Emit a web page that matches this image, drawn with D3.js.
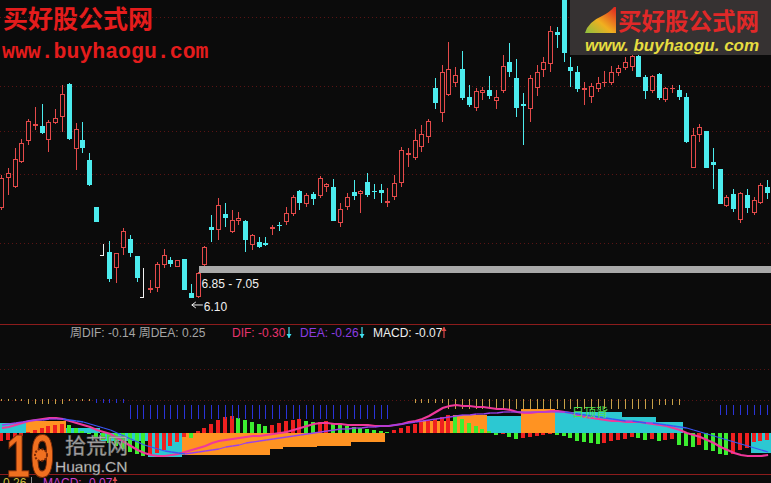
<!DOCTYPE html>
<html><head><meta charset="utf-8">
<script src="https://cdn.jsdelivr.net/npm/d3@7/dist/d3.min.js"></script>
<style>html,body{margin:0;padding:0;background:#0b0b0b;overflow:hidden}</style>
</head><body><svg id="c" width="771" height="483"></svg>
<script>
(function(){
// ---------- DATA ----------
const opens  = [8.76,9.64,9.37,10.11,10.73,11.17,11.17,10.76,11.26,11.43,12.40,10.49,10.76,10.17,8.79,7.37,7.46,6.99,7.58,7.84,7.34,6.14,6.34,6.40,7.08,7.23,7.02,7.26,6.26,6.14,7.08,8.20,8.11,8.58,8.05,8.37,8.37,7.67,7.76,7.72,8.15,8.27,8.34,8.58,9.26,8.87,9.17,9.11,9.37,9.37,8.31,8.79,9.23,9.17,9.52,9.27,9.29,8.90,9.08,9.49,10.31,10.23,10.55,10.84,12.29,11.55,12.08,12.43,12.84,12.02,11.70,12.14,12.23,11.90,12.20,13.05,12.58,11.81,11.67,12.29,12.81,12.99,13.93,15.00,12.90,12.76,12.23,12.02,12.26,12.43,12.43,12.73,12.87,12.90,13.23,12.61,12.20,12.70,11.93,12.26,12.23,12.02,9.93,10.90,11.02,10.11,9.90,8.81,9.17,8.40,9.14,8.61,8.90,9.37];
const highs  = [9.73,9.93,10.52,10.79,11.37,11.73,11.81,11.34,11.67,12.37,12.43,11.26,11.29,10.37,8.79,7.70,7.79,7.43,8.17,7.96,7.34,6.99,6.64,7.17,7.55,7.31,7.23,7.26,6.52,6.87,7.64,8.55,9.05,8.90,8.70,8.64,8.40,7.99,7.90,7.90,8.26,8.34,8.79,9.14,9.29,9.20,9.23,9.70,9.49,9.61,8.90,9.20,9.58,9.29,9.79,9.46,9.46,9.34,9.73,10.55,10.52,11.08,11.20,11.37,12.58,12.96,13.64,12.90,13.37,12.37,12.29,12.31,12.64,12.23,13.26,13.61,13.14,12.14,12.67,12.96,13.20,14.11,14.08,15.20,13.20,12.93,12.46,12.43,12.61,12.79,12.93,12.96,13.20,13.34,13.40,12.67,12.67,12.73,12.31,12.37,12.37,12.14,11.11,11.23,11.02,10.52,9.90,9.14,9.31,9.23,9.31,9.08,9.49,9.58];
const lows   = [8.70,9.14,9.34,10.08,10.61,11.05,10.93,10.40,11.23,10.99,10.76,9.87,10.37,9.40,8.34,7.37,6.58,6.55,7.37,7.31,6.58,6.14,6.26,6.29,6.99,7.02,7.02,6.34,6.10,6.12,7.05,7.76,7.81,8.20,8.02,8.26,7.46,7.52,7.58,7.64,7.96,8.11,8.26,8.52,8.70,8.79,8.84,9.05,9.23,8.37,8.20,8.70,8.99,8.61,9.08,9.05,8.90,8.79,8.99,9.37,9.96,10.17,10.40,10.67,11.67,11.29,12.05,12.31,11.93,11.73,11.61,11.93,11.96,11.67,12.14,12.61,11.43,10.61,11.29,12.05,12.61,12.76,13.46,13.05,12.31,12.17,11.79,11.84,12.17,12.34,12.37,12.64,12.81,12.79,12.61,11.96,12.14,11.93,11.87,12.17,11.93,10.67,9.93,10.70,9.93,9.31,8.87,8.79,8.64,8.31,8.61,8.55,8.87,9.02];
const closes = [9.64,9.79,10.20,10.67,11.31,11.23,10.96,11.29,11.40,12.11,10.79,11.08,10.52,9.43,8.34,7.37,6.67,7.43,8.08,7.43,6.70,6.14,6.40,7.11,7.37,7.11,7.23,6.34,6.12,6.84,7.61,8.11,8.84,8.46,8.40,8.46,7.81,7.96,7.61,7.68,8.19,8.24,8.61,9.08,8.90,9.14,9.02,9.64,9.46,8.37,8.73,9.08,9.11,9.26,9.14,9.25,9.20,8.96,9.49,10.46,10.37,10.76,10.93,11.31,11.84,12.76,12.84,12.67,11.99,11.79,12.20,12.23,12.05,12.02,12.93,12.76,11.70,11.76,12.58,12.76,13.05,13.96,13.84,13.31,12.79,12.26,12.29,12.34,12.43,12.46,12.76,12.87,13.05,13.23,12.61,12.20,12.64,11.99,12.29,12.29,12.02,10.70,10.90,11.14,9.93,10.02,8.87,9.08,8.73,9.20,8.76,8.99,9.43,9.20];
const whiteBars = [15, 21];
const gridPrices = [14.37, 12.34, 11.02, 9.76, 7.73];
const bandRange = [6.85, 7.05];
const bandStartIdx = 29;
const lowMarkIdx = 28, lowMarkPrice = 6.10;

const macdHist = [-.08,-.07,-.05,-.03,.01,.03,.05,.07,.08,.09,
  .08,.05,.02,-.01,-.04,-.07,-.10,-.13,-.16,-.19,
  -.21,-.23,-.22,-.20,-.17,-.13,-.09,-.04,-.05,.02,
  .05,.09,.13,.16,.17,.15,.13,.11,.09,.07,
  .08,.10,.12,.13,.14,.12,.11,.115,.12,.10,
  .08,.07,.06,.05,.04,.03,.02,.01,.03,.05,
  .07,.09,.11,.13,.14,.16,.18,.17,.14,.10,
  .07,.04,.02,-.02,-.01,-.04,-.06,-.05,-.04,-.03,
  -.02,-.01,-.02,-.03,-.05,-.08,-.09,-.10,-.11,-.10,
  -.08,-.07,-.06,-.04,-.05,-.07,-.06,-.08,-.07,-.06,
  -.12,-.13,-.14,-.12,-.17,-.18,-.21,-.22,-.21,-.17,
  -.15,-.09,-.08,-.07];
const difLine = [.05,.06,.08,.10,.12,.13,.14,.15,.15,.14,
  .12,.10,.08,.06,.03,.01,-.01,-.05,-.09,-.13,
  -.17,-.20,-.22,-.23,-.23,-.22,-.21,-.19,-.17,-.15,
  -.13,-.10,-.08,-.07,-.06,-.05,-.04,-.03,-.03,-.02,
  -.01,0,.01,.03,.05,.07,.09,.10,.10,.09,
  .09,.08,.08,.08,.08,.07,.07,.07,.08,.09,
  .11,.12,.14,.17,.21,.25,.27,.28,.27,.27,
  .26,.26,.25,.24,.24,.23,.21,.20,.20,.21,
  .21,.22,.22,.21,.20,.18,.16,.15,.14,.13,
  .12,.12,.11,.11,.11,.10,.09,.08,.07,.05,
  .03,0,-.02,-.04,-.07,-.10,-.14,-.17,-.20,-.22,
  -.23,-.23,-.23,-.22];
const deaLine = [.08,.09,.10,.11,.12,.13,.13,.14,.14,.14,
  .13,.12,.11,.09,.07,.05,.03,0,-.03,-.06,
  -.09,-.12,-.14,-.16,-.18,-.19,-.20,-.21,-.20,-.19,
  -.18,-.17,-.16,-.14,-.13,-.12,-.10,-.09,-.08,-.07,
  -.06,-.05,-.04,-.03,-.02,-.01,0,.01,.02,.03,
  .04,.04,.05,.05,.06,.06,.07,.07,.08,.09,
  .10,.11,.12,.13,.14,.15,.16,.17,.18,.18,
  .19,.19,.20,.20,.21,.21,.21,.21,.21,.21,
  .21,.21,.21,.21,.20,.19,.18,.17,.16,.15,
  .14,.13,.12,.12,.11,.10,.10,.09,.08,.07,
  .06,.05,.03,.01,-.01,-.03,-.05,-.07,-.09,-.11,
  -.13,-.15,-.17,-.19];
const weekStart = [0,4,10,15,22,27,40,42,47,52,57,62,67,72,77,82,92,97,101,111];
const weekHist  = [.10,.12,.05,-.08,-.24,-.22,-.16,-.14,-.13,-.09,0,.12,.18,.17,.24,.21,.16,.11,0,-.20];
const trendStick = [2,2,2,2,5,5,5,5,5,5,2,2,2,2,-4,-4,-4,-4,-4,
  -20,-20,-20,-20,-20,-20,-20,-20,-20,-20,-20,-20,-20,-20,-20,-20,-20,-20,-20,-20,
  -20,-20,-20,-20,-20,-20,-20,-20,-20,-20,-20,-20,-20,-20,-20,-20,-20,-20,-20,
  0,0,0,4,4,4,4,4,10,10,10,10,10,10,10,10,10,10,10,10,10,10,10,10,10,10,10,10,10,10,10,10,10,10,10,10,10,10,10,
  6,6,6,6,0,0,0,0,0,-14,-14,-14,-14,-14,-14,-14,-14];
const macdGrid = [0.64, 0.33];
const weekLegend = ["周DIF: -0.14", "周DEA: 0.25"];
const dayLegend = {dif:"DIF: -0.30", dea:"DEA: -0.26", macd:"MACD: -0.07"};

// ---------- SCALES ----------
const W = 771, H = 483;
const N = opens.length;
const svg = d3.select("#c");
svg.append("rect").attr("width",W).attr("height",H).attr("fill","#0b0b0b");
const x = d3.scaleBand().domain(d3.range(N)).range([-1.4, 771.5]);
const xc = i => x(i) + x.bandwidth()/2;
const yP = d3.scaleLinear().domain([5.35, 14.87]).range([324, 0]);
const yM = d3.scaleLinear().domain([-0.41, 1.09]).range([474, 324]);

const RED = "#e44a4a", CYAN = "#4cecee";

// ---------- TOP PANEL ----------
const defs = svg.append("defs");
defs.append("clipPath").attr("id","topclip").append("rect").attr("x",0).attr("y",0).attr("width",W).attr("height",323);
const topG = svg.append("g").attr("clip-path","url(#topclip)").attr("shape-rendering","crispEdges");

topG.selectAll("line.grid").data(gridPrices).join("line")
  .attr("x1",0).attr("x2",W).attr("y1",d=>Math.round(yP(d))+0.5).attr("y2",d=>Math.round(yP(d))+0.5)
  .attr("stroke","#5a1414").attr("stroke-dasharray","1,3");

topG.append("rect").attr("x",xc(bandStartIdx)).attr("width",W-xc(bandStartIdx))
  .attr("y",yP(bandRange[1])).attr("height",yP(bandRange[0])-yP(bandRange[1])).attr("fill","#a9a9a9");

const data = d3.range(N).map(i=>({i,o:opens[i],h:highs[i],l:lows[i],c:closes[i],w:whiteBars.includes(i)}));
const cg = topG.selectAll("g.c").data(data).join("g");
cg.each(function(d){
  const g = d3.select(this);
  const px = Math.round(xc(d.i));
  const wx = px - 0.5;
  if (d.w){
    g.append("line").attr("x1",wx).attr("x2",wx).attr("y1",Math.round(yP(d.h))).attr("y2",Math.round(yP(d.l))).attr("stroke","#f2f2f2");
    g.append("line").attr("x1",px-4).attr("x2",px).attr("y1",Math.round(yP(d.l))+0.5).attr("y2",Math.round(yP(d.l))+0.5).attr("stroke","#f2f2f2");
    return;
  }
  const up = d.c >= d.o;
  const col = up ? RED : CYAN;
  const t = Math.round(yP(Math.max(d.o,d.c))), b = Math.round(yP(Math.min(d.o,d.c)));
  const yh = Math.round(yP(d.h)), yl = Math.round(yP(d.l));
  if (b - t < 2){
    g.append("line").attr("x1",wx).attr("x2",wx).attr("y1",yh).attr("y2",yl+1).attr("stroke",col);
    g.append("rect").attr("x",px-3).attr("width",5).attr("y",t).attr("height",Math.max(1,b-t)).attr("fill",col);
    return;
  }
  if (up){
    g.append("line").attr("x1",wx).attr("x2",wx).attr("y1",yh).attr("y2",t).attr("stroke",col);
    g.append("line").attr("x1",wx).attr("x2",wx).attr("y1",b).attr("y2",yl).attr("stroke",col);
    g.append("rect").attr("x",px-2.5).attr("width",4).attr("y",t+0.5).attr("height",b-t-1).attr("fill","#0b0b0b").attr("stroke",col);
  } else {
    g.append("line").attr("x1",wx).attr("x2",wx).attr("y1",yh).attr("y2",yl).attr("stroke",col);
    g.append("rect").attr("x",px-3).attr("width",5).attr("y",t).attr("height",b-t).attr("fill",col);
  }
});

svg.append("text").attr("x",xc(bandStartIdx)+3).attr("y",288).text(bandRange[0].toFixed(2)+" - "+bandRange[1].toFixed(2))
  .attr("font-family","Liberation Sans, Arial, sans-serif").attr("font-size",12).attr("fill","#f0f0f0");
const lmx = xc(lowMarkIdx), lmy = yP(lowMarkPrice)+6.5;
svg.append("line").attr("x1",lmx).attr("x2",lmx+11).attr("y1",lmy).attr("y2",lmy).attr("stroke","#f0f0f0");
svg.append("path").attr("d",`M${lmx},${lmy} l4,-3 M${lmx},${lmy} l4,3`).attr("stroke","#f0f0f0").attr("fill","none");
svg.append("text").attr("x",lmx+12).attr("y",lmy+6).text(lowMarkPrice.toFixed(2))
  .attr("font-family","Liberation Sans, Arial, sans-serif").attr("font-size",12).attr("fill","#f0f0f0");

svg.append("text").attr("x",3).attr("y",28).text("买好股公式网")
  .attr("font-family","Noto Sans CJK SC").attr("font-weight","bold").attr("font-size",25).attr("fill","#e41c1c");
svg.append("text").attr("x",2).attr("y",58).text("www.buyhaogu.com")
  .attr("font-family","Liberation Mono, monospace").attr("font-weight","bold").attr("font-size",21.5).attr("fill","#e41c1c");

svg.append("rect").attr("x",570).attr("y",0).attr("width",201).attr("height",55).attr("fill","#363232");
const lg = defs.append("linearGradient").attr("id","lg").attr("x1","0").attr("y1","1").attr("x2","1").attr("y2","0");
lg.append("stop").attr("offset","0").attr("stop-color","#8ac040");
lg.append("stop").attr("offset","0.45").attr("stop-color","#f0b020");
lg.append("stop").attr("offset","1").attr("stop-color","#e02020");
svg.append("path").attr("d","M585,33 Q588,22 602,16 Q610,12 614,7 L616,7 L616,33 Z").attr("fill","url(#lg)");
svg.append("text").attr("x",618).attr("y",30).text("买好股公式网")
  .attr("font-family","Noto Sans CJK SC").attr("font-weight","bold").attr("font-size",23.5).attr("fill","#e02828");
svg.append("text").attr("x",585).attr("y",51).text("www. buyhaogu. com")
  .attr("font-family","Liberation Sans, Arial, sans-serif").attr("font-weight","bold").attr("font-style","italic").attr("font-size",17).attr("fill","#e6dc40");

[324,474].forEach(yv=>svg.append("line").attr("x1",0).attr("x2",W).attr("y1",yv+0.5).attr("y2",yv+0.5).attr("stroke","#8c1c1c"));

const F = "Liberation Sans, Noto Sans CJK SC, sans-serif";
function txt(xv,yv,s,c){return svg.append("text").attr("x",xv).attr("y",yv).text(s).attr("font-family",F).attr("font-size",12).attr("fill",c);}
function arrow(xv,y1,y2,c){
  svg.append("line").attr("x1",xv).attr("x2",xv).attr("y1",y1).attr("y2",y2).attr("stroke",c).attr("stroke-width",1.2);
  const tip = y2, d = y2>y1 ? -1 : 1;
  svg.append("path").attr("d",`M${xv-2.5},${tip+d*4} L${xv},${tip} L${xv+2.5},${tip+d*4} Z`).attr("fill",c);
}
txt(70,337,weekLegend[0]+" "+weekLegend[1],"#a6a6a6");
txt(232,337,dayLegend.dif,"#e8336e");
arrow(289,327,338,"#40e0f0");
txt(300,337,dayLegend.dea,"#8c3ce0");
arrow(362,327,338,"#40e0f0");
txt(373,337,dayLegend.macd,"#f0f0f0");
arrow(444,338,327,"#e04848");

const bot = svg.append("g");
bot.selectAll("line.mg").data(macdGrid).join("line")
  .attr("x1",0).attr("x2",W).attr("y1",d=>Math.round(yM(d))+0.5).attr("y2",d=>Math.round(yM(d))+0.5)
  .attr("stroke","#5a1414").attr("stroke-dasharray","1,3");

const blocks = weekStart.map((s,k)=>({s, e: k<weekStart.length-1 ? weekStart[k+1] : N, v: weekHist[k], prev: k>0 ? weekHist[k-1] : Infinity}));
bot.selectAll("rect.wk").data(blocks.filter(b=>b.v!==0)).join("rect")
  .attr("x",b=>x(b.s)).attr("width",b=>(b.e<N ? x(b.e) : W) - x(b.s))
  .attr("y",b=>yM(Math.max(0,b.v))).attr("height",b=>Math.abs(yM(b.v)-yM(0)))
  .attr("fill",b=> b.v > b.prev ? "#ff9322" : "#2cc8d2").attr("shape-rendering","crispEdges");

bot.selectAll("rect.h").data(macdHist.map((v,i)=>({v,i,p: i>0?macdHist[i-1]:v}))).join("rect")
  .attr("x",d=>Math.round(xc(d.i))-3).attr("width",4)
  .attr("y",d=>yM(Math.max(0,d.v))).attr("height",d=>Math.max(1,Math.abs(yM(d.v)-yM(0))))
  .attr("fill",d=> d.v >= d.p ? "#ee2020" : "#3cee30").attr("shape-rendering","crispEdges");

const stickTop = 0.34;
bot.selectAll("line.st").data(trendStick.map((v,i)=>({v,i})).filter(d=>d.v!==0)).join("line")
  .attr("x1",d=>Math.round(xc(d.i))-0.5).attr("x2",d=>Math.round(xc(d.i))-0.5)
  .attr("y1",d=>yM(stickTop) + (d.v<0 && Math.abs(d.v)>10 ? 6 : 0))
  .attr("y2",d=>yM(stickTop) + (d.v<0 && Math.abs(d.v)>10 ? 6 : 0) + Math.abs(d.v)*(d.v<0 && Math.abs(d.v)>10 ? 0.7 : 1))
  .attr("stroke",d=>d.v>0 ? "#c8a048" : "#2a34d8").attr("shape-rendering","crispEdges");

const ln = d3.line().x((d,i)=>xc(i)).y(d=>yM(d));
bot.append("path").attr("d",ln(difLine)).attr("fill","none").attr("stroke","#f0389a").attr("stroke-width",2.2);
for (let i=1;i<N;i++){
  bot.append("line").attr("x1",xc(i-1)).attr("x2",xc(i)).attr("y1",yM(deaLine[i-1])).attr("y2",yM(deaLine[i]))
    .attr("stroke", deaLine[i] >= deaLine[i-1] ? "#9a40ec" : "#3a56f4").attr("stroke-width",1.3);
}
svg.append("text").attr("x",572).attr("y",417).text("日顶背").attr("font-family","Noto Sans CJK SC").attr("font-size",12).attr("fill","#50e050");

txt(3,487,"0.26","#d0c040");
svg.append("line").attr("x1",31.5).attr("x2",31.5).attr("y1",477).attr("y2",483).attr("stroke","#909090");
txt(43,487,"MACD: -0.07","#d040d0");
arrow(115,490,477,"#e04848");

const lg2 = svg.append("g");
lg2.append("text").attr("transform","translate(6,477) scale(0.7,1)").text("10")
  .attr("font-family","Liberation Sans, Arial, sans-serif").attr("font-weight","bold").attr("font-size",62)
  .attr("fill","#f07020").attr("stroke","#7a2a08").attr("stroke-width",1.2);
lg2.append("circle").attr("cx",41).attr("cy",455).attr("r",6).attr("fill","#f07020").attr("stroke","#7a2a08").attr("stroke-dasharray","2,1.5").attr("stroke-width",2);
lg2.append("text").attr("x",65).attr("y",453).text("拾荒网")
  .attr("font-family","Noto Sans CJK SC").attr("font-size",21).attr("fill","#cccccc").attr("fill-opacity",0.85).attr("stroke","#707070").attr("stroke-width",0.6);
lg2.append("text").attr("x",55).attr("y",472).text("Huang.CN")
  .attr("font-family","Liberation Sans, Arial, sans-serif").attr("font-size",15.5).attr("fill","#d8d8d8").attr("stroke","#606060").attr("stroke-width",0.4);
})();
</script></body></html>
